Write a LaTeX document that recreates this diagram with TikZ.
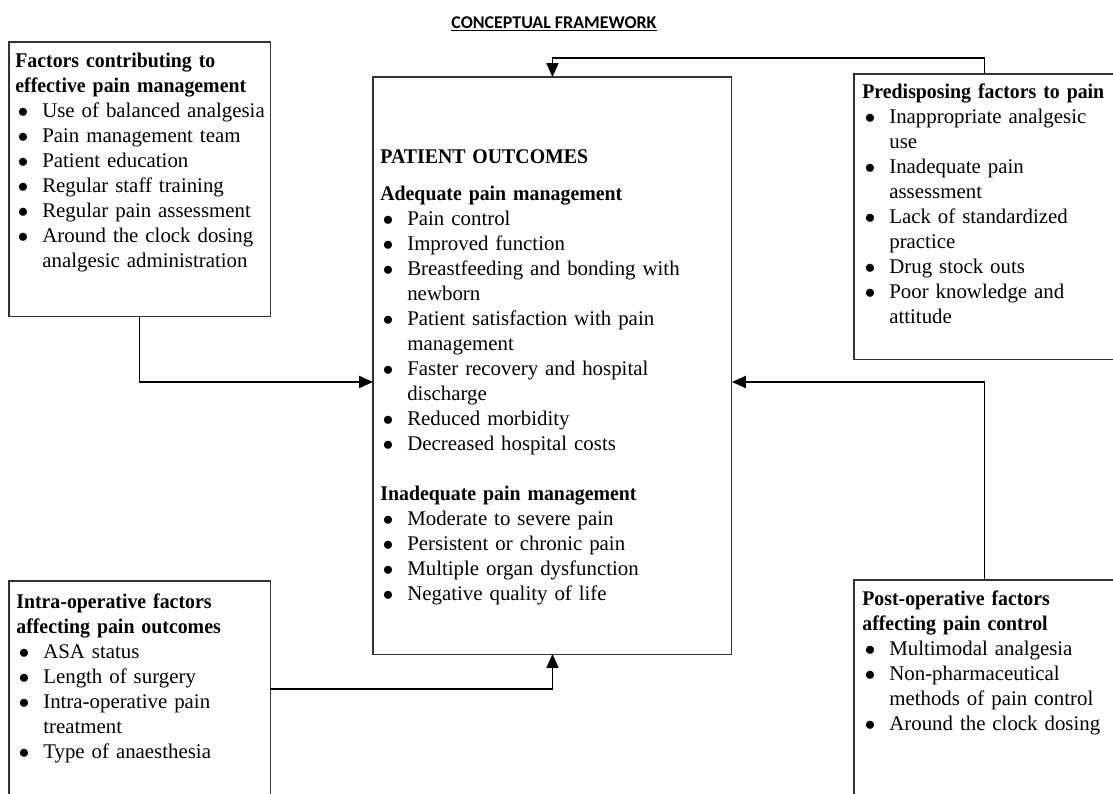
\documentclass[tikz,border=0pt]{standalone}
\usepackage{fontspec}
\setmainfont{Liberation Serif}[BoldFeatures={FakeStretch=0.95}]
\newfontfamily\titlefont{Carlito}
\usetikzlibrary{arrows.meta,positioning}
\newcommand{\bul}[1]{\par\hangindent=15.5pt\hangafter=1\noindent\makebox[15.5pt][l]{\hspace{1.5pt}$\bullet$}#1\par}
\tikzset{
  frame/.style={draw=black!80, line width=0.6pt, anchor=north west, inner sep=0pt, outer sep=0pt, minimum width=150.1pt},
  txt/.style={anchor=base west, align=left, inner sep=0pt, text width=160pt, font=\fontsize{12}{14.4}\selectfont},
  flow/.style={-{Triangle[length=8pt,width=7pt]}, draw=black, line width=0.75pt},
}
\begin{document}
\begin{tikzpicture}[x=0.575pt, y=-0.575pt]
\useasboundingbox (0,0) rectangle (1113,793);
\clip (0,0) rectangle (1113,793);
\node[anchor=base, font=\titlefont\bfseries\fontsize{10.3}{12}\selectfont] (title) at (554,28) {\underline{CONCEPTUAL FRAMEWORK}};

\node[frame, minimum height=157.6pt] (fac) at (9,42) {};
\node[frame, minimum width=206.4pt, minimum height=331.8pt] (out) at (373,77) {};
\node[frame, minimum height=163.9pt] (pre) at (854,74) {};
\node[frame, minimum height=124.2pt] (intra) at (9,581) {};
\node[frame, minimum height=124.8pt] (post) at (854,580) {};

\node[txt] (fac-t) at (15,67) {\textbf{Factors contributing to}\\\textbf{effective pain management}
\bul{Use of balanced analgesia}
\bul{Pain management team}
\bul{Patient education}
\bul{Regular staff training}
\bul{Regular pain assessment}
\bul{Around the clock dosing\newline analgesic administration}};

\node[txt, text width=190pt] (out-t) at (380,163) {\textbf{PATIENT OUTCOMES}\par\vspace{7pt}
\textbf{Adequate pain management}
\bul{Pain control}
\bul{Improved function}
\bul{Breastfeeding and bonding with\newline newborn}
\bul{Patient satisfaction with pain\newline management}
\bul{Faster recovery and hospital\newline discharge}
\bul{Reduced morbidity}
\bul{Decreased hospital costs}\vspace{14.4pt}
\textbf{Inadequate pain management}
\bul{Moderate to severe pain}
\bul{Persistent or chronic pain}
\bul{Multiple organ dysfunction}
\bul{Negative quality of life}};

\node[txt] (pre-t) at (862,98) {\textbf{Predisposing factors to pain}
\bul{Inappropriate analgesic\newline use}
\bul{Inadequate pain\newline assessment}
\bul{Lack of standardized\newline practice}
\bul{Drug stock outs}
\bul{Poor knowledge and\newline attitude}};

\node[txt] (intra-t) at (16,608) {\textbf{Intra-operative factors}\\\textbf{affecting pain outcomes}
\bul{ASA status}
\bul{Length of surgery}
\bul{Intra-operative pain\newline treatment}
\bul{Type of anaesthesia}};

\node[txt] (post-t) at (862,605) {\textbf{Post-operative factors}\\\textbf{affecting pain control}
\bul{Multimodal analgesia}
\bul{Non-pharmaceutical\newline methods of pain control}
\bul{Around the clock dosing}};

\coordinate (hi) at (0,58);
\coordinate (lvl) at (0,382);
\draw[flow] (pre.north) |- (hi -| out.north) -- (out.north);
\draw[flow] (post.north) |- (lvl -| out.east);
\draw[flow] (fac.south) |- (lvl -| out.west);
\draw[flow] (intra.east) -| (out.south);
\end{tikzpicture}
\end{document}
